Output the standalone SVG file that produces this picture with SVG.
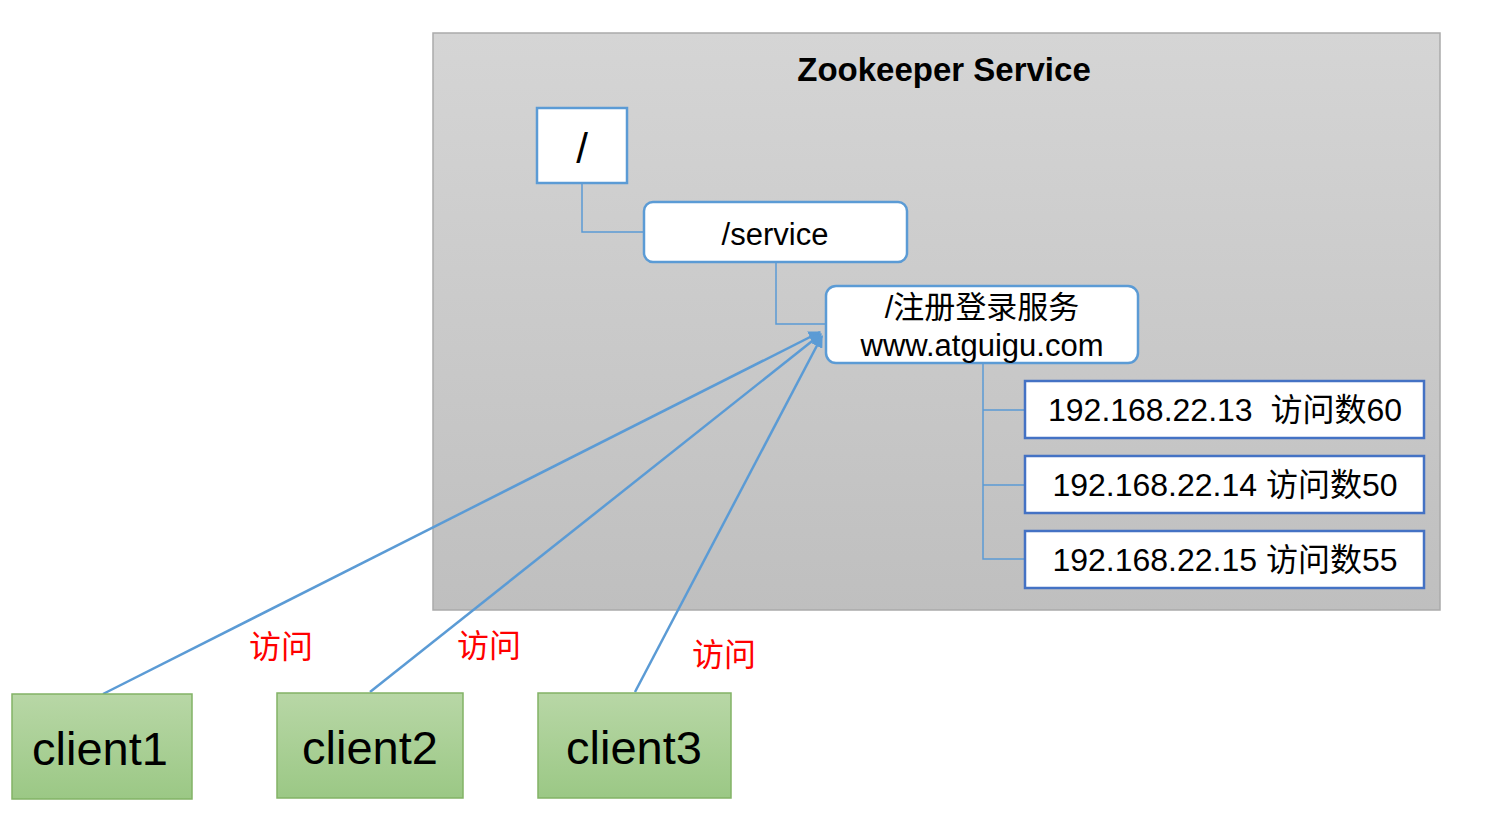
<svg xmlns="http://www.w3.org/2000/svg" width="1496" height="822" viewBox="0 0 1496 822">
<defs>
<linearGradient id="gbg" x1="0" y1="0" x2="0" y2="1"><stop offset="0" stop-color="#d5d5d5"/><stop offset="1" stop-color="#bfbfbf"/></linearGradient>
<linearGradient id="ggr" x1="0" y1="0" x2="0" y2="1"><stop offset="0" stop-color="#b8d7a6"/><stop offset="1" stop-color="#9bc885"/></linearGradient>
<marker id="arr" viewBox="0 0 10 10" refX="9" refY="5" markerWidth="5" markerHeight="5" orient="auto"><path d="M0,0 L10,5 L0,10 z" fill="#5b9bd5"/></marker>
<style>
.t{font-family:"Liberation Sans","Noto Sans CJK SC",sans-serif;fill:#000;text-anchor:middle}
.bn{fill:#fff;stroke:#5b9bd5;stroke-width:2.5}
.ip{fill:#fff;stroke:#4472c4;stroke-width:2.5}
.cl{fill:url(#ggr);stroke:#82b366;stroke-width:1.5}
.ln{fill:none;stroke:#5b9bd5;stroke-width:1.5}
.cn{fill:none;stroke:#5b9bd5;stroke-width:2.5}
.lb{font-family:"Noto Sans CJK SC",sans-serif;fill:#ff0000;font-size:32px;text-anchor:middle}
</style>
</defs>
<rect width="1496" height="822" fill="#fff"/>
<g id="zk">
<rect x="433" y="33" width="1007" height="577" fill="url(#gbg)" stroke="#aaaaaa" stroke-width="1.5"/>
<text class="t" x="944" y="81" font-size="33" font-weight="bold">Zookeeper Service</text>
</g>
<g id="connectors">
<path class="ln" d="M582,183 V232 H644"/>
<path class="ln" d="M776,262 V324 H826"/>
<path class="ln" d="M983,363 V559 H1025 M983,410 H1025 M983,485 H1025"/>
<line class="cn" x1="103" y1="694" x2="820" y2="332" marker-end="url(#arr)"/>
<line class="cn" x1="370" y1="692" x2="821" y2="334" marker-end="url(#arr)"/>
<line class="cn" x1="635" y1="692" x2="822" y2="336" marker-end="url(#arr)"/>
</g>
<g id="root"><rect class="bn" x="537" y="108" width="90" height="75"/><text class="t" x="582" y="163" font-size="42">/</text></g>
<g id="service"><rect class="bn" x="644" y="202" width="263" height="60" rx="9"/><text class="t" x="775" y="245" font-size="31">/service</text></g>
<g id="reg"><rect class="bn" x="826" y="286" width="312" height="77" rx="10"/><text class="t" x="982" y="318" font-size="31">/注册登录服务</text><text class="t" x="982" y="356" font-size="31">www.atguigu.com</text></g>
<g id="ip13"><rect class="ip" x="1025" y="381" width="399" height="57"/><text class="t" x="1225" y="421" font-size="32">192.168.22.13&#160; 访问数60</text></g>
<g id="ip14"><rect class="ip" x="1025" y="456" width="399" height="57"/><text class="t" x="1225" y="496" font-size="32">192.168.22.14 访问数50</text></g>
<g id="ip15"><rect class="ip" x="1025" y="531" width="399" height="57"/><text class="t" x="1225" y="571" font-size="32">192.168.22.15 访问数55</text></g>
<g id="client1"><rect class="cl" x="12" y="694" width="180" height="105"/><text class="t" x="100" y="765" font-size="47">client1</text></g>
<g id="client2"><rect class="cl" x="277" y="693" width="186" height="105"/><text class="t" x="370" y="764" font-size="47">client2</text></g>
<g id="client3"><rect class="cl" x="538" y="693" width="193" height="105"/><text class="t" x="634" y="764" font-size="47">client3</text></g>
<g id="labels">
<text class="lb" x="281" y="658">访问</text>
<text class="lb" x="489" y="657">访问</text>
<text class="lb" x="724" y="666">访问</text>
</g>
</svg>
